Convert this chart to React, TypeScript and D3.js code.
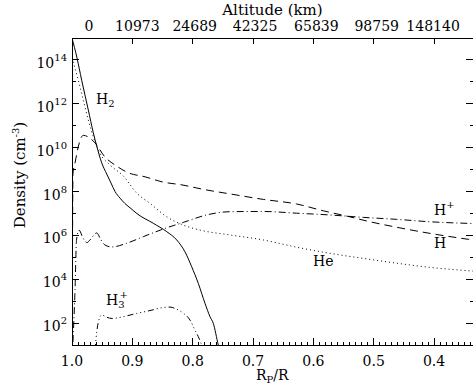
import * as d3 from "d3";

// Rp/R on the bottom axis, log10 density (cm^-3)
const rH2 = [1.0, 0.9917, 0.984, 0.973, 0.9647, 0.959, 0.9508, 0.9425, 0.9354, 0.9287, 0.9205, 0.9122, 0.9022, 0.8923, 0.8653, 0.8431, 0.8265, 0.8128, 0.8017, 0.7907, 0.7796, 0.7713, 0.7659, 0.7576, 0.74];
const logH2 = [15.0, 14.09, 13.08, 11.72, 10.68, 10.07, 9.31, 8.8, 8.39, 8.0, 7.7, 7.45, 7.22, 6.99, 6.55, 6.17, 5.79, 5.25, 4.57, 3.81, 2.9, 2.29, 1.99, 1.0, -0.5];

const rH = [0.9995, 0.999, 0.9983, 0.995, 0.9896, 0.984, 0.9813, 0.9619, 0.9453, 0.9287, 0.9072, 0.879, 0.8492, 0.8177, 0.7829, 0.7382, 0.683, 0.6277, 0.5836, 0.5449, 0.5062, 0.462, 0.4068, 0.3433, 0.3355];
const logH = [1.0, 6.5, 8.84, 9.3, 10.04, 10.5, 10.56, 10.22, 9.57, 9.21, 8.86, 8.67, 8.43, 8.3, 8.1, 7.89, 7.64, 7.43, 7.12, 6.88, 6.62, 6.37, 6.09, 5.82, 5.79];

const rHe = [1.0, 0.9896, 0.9813, 0.973, 0.9647, 0.9536, 0.937, 0.915, 0.8928, 0.8708, 0.8431, 0.8156, 0.7879, 0.7382, 0.683, 0.6277, 0.5725, 0.5173, 0.462, 0.4068, 0.3355];
const logHe = [14.09, 13.08, 12.17, 11.26, 10.5, 9.74, 9.21, 8.71, 7.93, 7.46, 6.85, 6.47, 6.24, 6.02, 5.79, 5.46, 5.18, 4.95, 4.73, 4.54, 4.37];

const rHp = [0.9995, 0.995, 0.9925, 0.9884, 0.9818, 0.9751, 0.9702, 0.959, 0.952, 0.9453, 0.9342, 0.9094, 0.8819, 0.8487, 0.8156, 0.7741, 0.7382, 0.683, 0.6277, 0.5725, 0.5173, 0.462, 0.4068, 0.3355];
const logHp = [0.5, 3.51, 5.79, 6.24, 5.88, 5.67, 5.79, 6.11, 5.79, 5.56, 5.47, 5.64, 5.94, 6.29, 6.59, 6.95, 7.08, 7.09, 7.01, 6.93, 6.82, 6.73, 6.62, 6.54];

const rH3p = [0.9619, 0.9586, 0.9544, 0.9508, 0.9437, 0.9337, 0.9172, 0.8928, 0.8708, 0.8487, 0.8376, 0.8265, 0.8161, 0.8045, 0.7962, 0.7907, 0.787, 0.782];
const logH3p = [0.77, 1.68, 2.23, 2.37, 2.28, 2.21, 2.28, 2.44, 2.57, 2.71, 2.73, 2.63, 2.46, 2.14, 1.68, 1.38, 1.14, 0.7];

const xTicks = [1.0, 0.9, 0.8, 0.7, 0.6, 0.5, 0.4];
const xTickLabels = ["1.0", "0.9", "0.8", "0.7", "0.6", "0.5", "0.4"];
const altitudeLabels = ["0", "10973", "24689", "42325", "65839", "98759", "148140"];
const yMajorExp = [2, 4, 6, 8, 10, 12, 14];
const yMinorExp = [3, 5, 7, 9, 11, 13];

const W = 473;
const H = 388;
const M = { left: 72, top: 38, right: 473, bottom: 345 };
const FONT = "'DejaVu Serif', 'Liberation Serif', serif";

const x = d3.scaleLinear().domain([1.0, 0.3355]).range([M.left, M.right]);
const y = d3.scaleLog().domain([10, 1e15]).range([M.bottom, M.top]);

const line = d3
  .line<[number, number]>()
  .x((d) => x(d[0]))
  .y((d) => y(Math.pow(10, d[1])))
  .curve(d3.curveMonotoneX);

const zip = (r: number[], n: number[]) => r.map((v, i) => [v, n[i]] as [number, number]);

const series = [
  { r: rH2, n: logH2, dash: "none" },
  { r: rH, n: logH, dash: "8,5" },
  { r: rHe, n: logHe, dash: "1,3" },
  { r: rHp, n: logHp, dash: "7,3,1,3" },
  { r: rH3p, n: logH3p, dash: "6,3,1,3,1,3,1,3" },
];

// top labels sit a little right of their ticks in the original
const topNudge = [17, 5, 2, 2, 3, 3, -1];
const minorX = d3.range(100, 33, -1).map((v) => v / 100);

export default function App() {
  return (
    <svg
      width={W}
      height={H}
      style={{ position: "absolute", left: 0, top: 0, background: "#fff" }}
      fontFamily={FONT}
    >
      <defs>
        <clipPath id="plot-clip">
          <rect x={M.left} y={M.top} width={M.right - M.left} height={M.bottom - M.top} />
        </clipPath>
      </defs>
      <rect width={W} height={H} fill="#fff" />

      {/* curves */}
      <g clipPath="url(#plot-clip)" fill="none" stroke="#000" strokeWidth={1}>
        {series.map((s, i) => (
          <path key={i} d={line(zip(s.r, s.n)) ?? ""} strokeDasharray={s.dash} />
        ))}
      </g>

      {/* frame */}
      <g stroke="#000" strokeWidth={1} shapeRendering="crispEdges">
        <line x1={M.left} x2={M.right + 1} y1={M.top} y2={M.top} />
        <line x1={M.left} x2={M.right + 1} y1={M.bottom} y2={M.bottom} />
        <line x1={M.left} x2={M.left} y1={M.top} y2={M.bottom} />
        <line x1={M.right} x2={M.right} y1={M.top} y2={M.bottom} />
        {xTicks.slice(1).map((t) => (
          <g key={t}>
            <line x1={x(t)} x2={x(t)} y1={M.bottom} y2={M.bottom - 7} />
            <line x1={x(t)} x2={x(t)} y1={M.top} y2={M.top + 6} />
          </g>
        ))}
        {minorX.map((t) => (
          <line key={t} x1={x(t)} x2={x(t)} y1={M.bottom} y2={M.bottom - 3} />
        ))}
        {yMajorExp.map((e) => (
          <g key={e}>
            <line x1={M.left} x2={M.left + 7} y1={y(Math.pow(10, e))} y2={y(Math.pow(10, e))} />
            <line x1={M.right} x2={M.right - 7} y1={y(Math.pow(10, e))} y2={y(Math.pow(10, e))} />
          </g>
        ))}
        {yMinorExp.map((e) => (
          <g key={e}>
            <line x1={M.left} x2={M.left + 4} y1={y(Math.pow(10, e))} y2={y(Math.pow(10, e))} />
            <line x1={M.right} x2={M.right - 3} y1={y(Math.pow(10, e))} y2={y(Math.pow(10, e))} />
          </g>
        ))}
      </g>

      {/* bottom tick labels */}
      <g fontSize={14} textAnchor="middle" fill="#000">
        {xTicks.map((t, i) => (
          <text key={t} x={x(t)} y={366}>
            {xTickLabels[i]}
          </text>
        ))}
      </g>
      <text x={256} y={380} fontSize={14} fill="#000">
        R<tspan fontSize={10} dy={3}>P</tspan>
        <tspan dy={-3}>/R</tspan>
      </text>

      {/* top axis */}
      <g fontSize={14} textAnchor="middle" fill="#000">
        {xTicks.map((t, i) => (
          <text key={t} x={x(t) + topNudge[i]} y={31}>
            {altitudeLabels[i]}
          </text>
        ))}
      </g>
      <text x={272.5} y={15} fontSize={15} textAnchor="middle" fill="#000">
        Altitude (km)
      </text>

      {/* left tick labels */}
      <g fontSize={14} textAnchor="end" fill="#000">
        {yMajorExp.map((e) => (
          <text key={e} x={67} y={y(Math.pow(10, e)) + 8}>
            10<tspan fontSize={10} dy={-7}>{e}</tspan>
          </text>
        ))}
      </g>
      <text
        transform="translate(25,175) rotate(-90)"
        fontSize={15}
        textAnchor="middle"
        fill="#000"
      >
        Density (cm<tspan fontSize={10} dy={-6}>-3</tspan>
        <tspan dy={6}>)</tspan>
      </text>

      {/* curve labels */}
      <g fontSize={14} fill="#000">
        <text x={96} y={104}>
          H<tspan fontSize={10} dy={3}>2</tspan>
        </text>
        <text x={106} y={305}>
          H<tspan fontSize={10} dy={3}>3</tspan>
          <tspan fontSize={10} dx={-5} dy={-10}>+</tspan>
        </text>
        <text x={313} y={266}>He</text>
        <text x={434} y={248}>H</text>
        <text x={434} y={215}>
          H<tspan fontSize={10} dy={-7}>+</tspan>
        </text>
      </g>
    </svg>
  );
}
